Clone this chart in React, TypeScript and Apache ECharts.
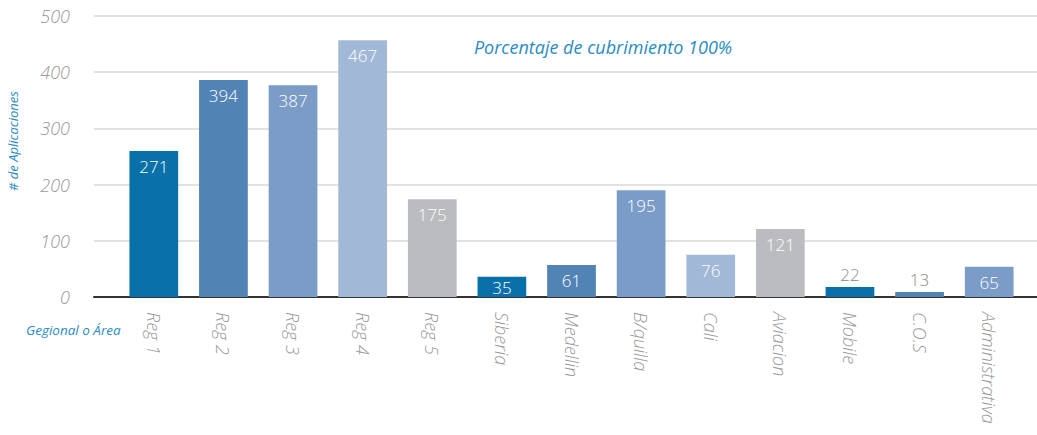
import React, { useEffect, useRef } from "react";
import * as echarts from "echarts";

const categories = [
  "Reg 1", "Reg 2", "Reg 3", "Reg 4", "Reg 5", "Siberia", "Medellin",
  "B/quilla", "Cali", "Aviacion", "Mobile", "C.O.S", "Administrativa",
];
// bar heights as drawn in the picture
const barHeights = [260, 386, 377, 457, 174, 36, 57, 190, 75, 121, 18, 9, 54];
// value labels as printed on the bars
const labelValues = [271, 394, 387, 467, 175, 35, 61, 195, 76, 121, 22, 13, 65];
const yTicks = [0, 100, 200, 300, 400, 500];
const palette = ["#0a70a9", "#5283b5", "#7b9cc6", "#a2b8d7", "#bbbcc0"];
const outsideLabel = ["Mobile", "C.O.S"];

const titleText = "Porcentaje de cubrimiento 100%";
const yName = "# de Aplicaciones";
const xName = "Gegional o Área";

const FONT = "'Open Sans', 'Noto Sans', sans-serif";
const BLUE = "#2a8cc2";

export default function App() {
  const ref = useRef<HTMLDivElement>(null);
  useEffect(() => {
    if (!ref.current) return;
    const chart = echarts.init(ref.current, undefined, { renderer: "svg" });
    const yMax = yTicks[yTicks.length - 1];
    chart.setOption({
      animation: false,
      backgroundColor: "#ffffff",
      textStyle: { fontFamily: FONT },
      grid: [
        { left: 94, right: 0, top: 16, bottom: 138 },
        { left: 119, right: 13, top: 16, bottom: 138 },
      ],
      xAxis: [
        {
          gridIndex: 0,
          type: "category",
          data: [""],
          axisLine: { show: true, lineStyle: { color: "#333333", width: 2 } },
          axisTick: { show: false },
          axisLabel: { show: false },
        },
        {
          gridIndex: 1,
          type: "category",
          data: categories,
          axisLine: { show: false },
          axisTick: { show: false },
          axisLabel: {
            rotate: -90,
            margin: 15,
            color: "#999999",
            fontSize: 18,
            fontStyle: "italic",
            fontWeight: 300,
            fontFamily: FONT,
          },
        },
      ],
      yAxis: [
        {
          gridIndex: 0,
          type: "value",
          min: 0,
          max: yMax,
          interval: 100,
          axisLine: { show: false },
          axisTick: { show: false },
          splitLine: { lineStyle: { color: "#d9d9d9", width: 1.5 } },
          axisLabel: {
            margin: 24,
            color: "#999999",
            fontSize: 18,
            fontStyle: "italic",
            fontWeight: 300,
            fontFamily: FONT,
          },
        },
        {
          gridIndex: 1,
          type: "value",
          min: 0,
          max: yMax,
          interval: 100,
          show: false,
          splitLine: { show: false },
        },
      ],
      series: [
        {
          type: "bar",
          xAxisIndex: 1,
          yAxisIndex: 1,
          barCategoryGap: "30%",
          data: barHeights.map((v, i) => {
            const outside = outsideLabel.includes(categories[i]);
            return {
              value: v,
              itemStyle: { color: palette[i % palette.length] },
              label: outside
                ? { position: "top", distance: 4, color: "#8a8a8a" }
                : {
                    position: "insideTop",
                    distance: v < 50 ? 2 : 7,
                    color: "#ffffff",
                  },
            };
          }),
          label: {
            show: true,
            fontSize: 17,
            fontWeight: 300,
            fontFamily: FONT,
            formatter: (p: any) => String(labelValues[p.dataIndex]),
          },
        },
      ],
      graphic: [
        {
          type: "text",
          x: 603,
          y: 47,
          style: {
            text: titleText,
            fill: BLUE,
            fontSize: 18,
            fontStyle: "italic",
            fontWeight: 400,
            fontFamily: FONT,
            align: "center",
            verticalAlign: "middle",
          },
        },
        {
          type: "text",
          x: 13,
          y: 141,
          rotation: Math.PI / 2,
          style: {
            text: yName,
            fill: BLUE,
            fontSize: 13,
            fontStyle: "italic",
            fontWeight: 400,
            fontFamily: FONT,
            align: "center",
            verticalAlign: "middle",
          },
        },
        {
          type: "text",
          x: 26,
          y: 330,
          style: {
            text: xName,
            fill: BLUE,
            fontSize: 13.5,
            fontStyle: "italic",
            fontWeight: 400,
            fontFamily: FONT,
            align: "left",
            verticalAlign: "middle",
          },
        },
      ],
    });
    return () => chart.dispose();
  }, []);
  return (
    <div
      ref={ref}
      style={{ position: "fixed", left: 0, top: 0, width: 1037, height: 435 }}
    />
  );
}
